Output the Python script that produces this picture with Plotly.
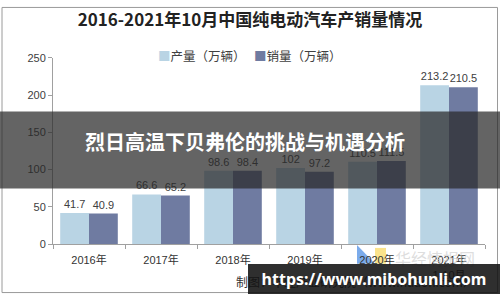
import plotly.graph_objects as go

categories = ["2016年", "2017年", "2018年", "2019年", "2020年", "2021年<br>1-10月"]
production = [41.7, 66.6, 98.6, 102, 110.5, 213.2]
sales = [40.9, 65.2, 98.4, 97.2, 111.5, 210.5]
prod_labels = ["41.7", "66.6", "98.6", "102", "110.5", "213.2"]
sales_labels = ["40.9", "65.2", "98.4", "97.2", "111.5", "210.5"]
series_names = ["产量（万辆）", "销量（万辆）"]
series_colors = ["#b9d4e4", "#6f7ba1"]
y_ticks = [0, 50, 100, 150, 200, 250]

FONT = "Liberation Sans, Noto Sans CJK SC, sans-serif"
CJK = "Noto Sans CJK SC, sans-serif"

fig = go.Figure()
fig.add_bar(x=categories, y=production, name=series_names[0],
            marker=dict(color=series_colors[0], line=dict(width=0)),
            text=prod_labels, textposition="outside", cliponaxis=False,
            textfont=dict(size=11, color="#404040", family=FONT))
fig.add_bar(x=categories, y=sales, name=series_names[1],
            marker=dict(color=series_colors[1], line=dict(width=0)),
            text=sales_labels, textposition="outside", cliponaxis=False,
            textfont=dict(size=11, color="#404040", family=FONT))

fig.update_layout(
    width=500, height=300,
    margin=dict(l=0, r=0, t=0, b=0),
    paper_bgcolor="white", plot_bgcolor="white",
    barmode="group", bargap=0.2, bargroupgap=0,
    showlegend=False,
    font=dict(family=FONT, color="#404040", size=11),
    title=dict(text="<b>2016-2021年10月中国纯电动汽车产销量情况</b>",
               x=0.5, xanchor="center", y=1 - 20 / 300, yanchor="middle",
               font=dict(family=CJK, size=17, color="#222222")),
    xaxis=dict(domain=[53 / 500, 485 / 500], showline=True, linecolor="#a0a0a0",
               linewidth=1, ticks="outside", tickson="boundaries", ticklen=4,
               tickcolor="#a0a0a0", ticklabelstandoff=6,
               tickfont=dict(family=FONT, size=11, color="#333333"),
               showgrid=False, fixedrange=True),
    yaxis=dict(domain=[1 - 248 / 300, 1 - 54 / 300], range=[0, 250],
               tickvals=y_ticks, showline=True, linecolor="#a0a0a0", linewidth=1,
               ticks="outside", ticklen=4, tickcolor="#a0a0a0",
               tickfont=dict(family=FONT, size=11, color="#404040"),
               showgrid=False, zeroline=False, fixedrange=True),
)

shapes = [
    dict(type="rect", xref="paper", yref="paper", x0=0.004, x1=0.995, y0=0.005, y1=0.995,
         line=dict(color="#9a9a9a", width=1), fillcolor="rgba(0,0,0,0)", layer="below"),
    dict(type="path", xref="paper", yref="paper",
         path="M 0.714 0.17 L 0.714 0.105 L 0.75 0.105 Z",
         fillcolor="rgba(90,150,230,0.8)", line=dict(width=0), layer="below"),
    dict(type="rect", xref="paper", yref="paper", x0=0.75, x1=0.772, y0=0.105, y1=0.16,
         fillcolor="rgba(250,220,110,0.8)", line=dict(width=0), layer="below"),
    dict(type="rect", xref="paper", yref="paper", x0=0, x1=1,
         y0=1 - 190 / 300, y1=1 - 110 / 300,
         fillcolor="rgba(40,40,40,0.72)", line=dict(width=0), layer="above"),
]
fig.update_layout(shapes=shapes)

legend_text = "   ".join(
    f"<span style='color:{c}'>■</span>{n}" for n, c in zip(series_names, series_colors))

annotations = [
    dict(text=legend_text, xref="paper", yref="paper", x=249 / 500, y=1 - 52 / 300,
         xanchor="center", yanchor="middle", showarrow=False,
         font=dict(family=CJK, size=12.5, color="#404040")),
    dict(text="华经情报网", xref="paper", yref="paper", x=435 / 500, y=1 - 262 / 300,
         xanchor="center", yanchor="middle", showarrow=False,
         font=dict(family=CJK, size=16, color="rgba(200,200,200,0.6)")),
    dict(text="制图：华经产业研究院（www.huaon.com）", xref="paper", yref="paper",
         x=234 / 500, y=1 - 287 / 300, xanchor="left", yanchor="middle", showarrow=False,
         font=dict(family=CJK, size=12, color="#333333")),
    dict(text="<b>烈日高温下贝弗伦的挑战与机遇分析</b>", xref="paper", yref="paper",
         x=245 / 500, y=1 - 141 / 300, xanchor="center", yanchor="middle", showarrow=False,
         font=dict(family=CJK, size=20, color="white")),
    dict(text="<b>https://www.mibohunli.com</b>", xref="paper", yref="paper",
         x=248 / 500, y=0, xanchor="left", yanchor="bottom", showarrow=False,
         width=252, height=30, align="center", valign="middle",
         bgcolor="rgba(18,18,18,0.88)", borderpad=0, borderwidth=0,
         font=dict(family="Noto Sans, sans-serif", size=16, color="white")),
]
fig.update_layout(annotations=annotations)

fig.write_html("out.html")
